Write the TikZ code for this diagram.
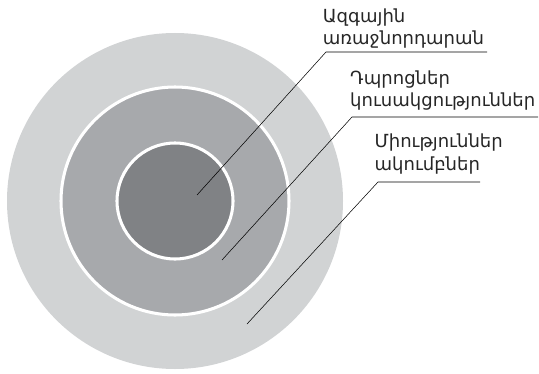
\documentclass[tikz,border=0pt]{standalone}
\usepackage{fontspec}
\usepackage{xcolor}
\usepackage{tikz}
\newfontfamily\armfont{DejaVu Sans}
\definecolor{RingOuter}{HTML}{D1D3D4}
\definecolor{RingMid}{HTML}{A7A9AC}
\definecolor{RingCore}{HTML}{808285}
\tikzset{
  leader/.style={black,line width=0.45pt},
  ringlabel/.style={anchor=base west,align=left,inner sep=0pt,
    font=\armfont\fontsize{15.4}{19.2}\selectfont,text=black!85}
}

\begin{document}
\begin{tikzpicture}[x=1cm,y=1cm]
\path[use as bounding box] (0,0) rectangle (16.17,11.19);
\coordinate (o) at (5.25,5.16);
\fill[RingOuter] (o) circle (5.04);
\draw[RingMid,fill=RingMid] (o) circle (3.42);
\draw[white,line width=2.6pt] (o) circle (3.42);
\fill[RingCore] (o) circle (1.74);
\draw[white,line width=2.6pt] (o) circle (1.74);
% labels
\node[ringlabel] (lnat) at (9.68,9.84) {Ազգային\\առաջնորդարան};
\node[ringlabel] (lsch) at (10.50,7.99) {Դպրոցներ\\կուսակցություններ};
\node[ringlabel] (lclub) at (11.23,6.09) {Միություններ\\ակումբներ};
% leader lines
\coordinate (p1) at (5.91,5.34);
\coordinate (k1) at (9.78,9.63);
\coordinate (e1) at (14.61,9.63);
\coordinate (p2) at (6.66,3.39);
\coordinate (k2) at (10.56,7.68);
\coordinate (e2) at (16.14,7.68);
\coordinate (p3) at (7.41,1.47);
\coordinate (k3) at (11.34,5.73);
\coordinate (e3) at (14.40,5.73);
\draw[leader] (p1) -- (k1) -- (e1);
\draw[leader] (p2) -- (k2) -- (e2);
\draw[leader] (p3) -- (k3) -- (e3);
\end{tikzpicture}
\end{document}
